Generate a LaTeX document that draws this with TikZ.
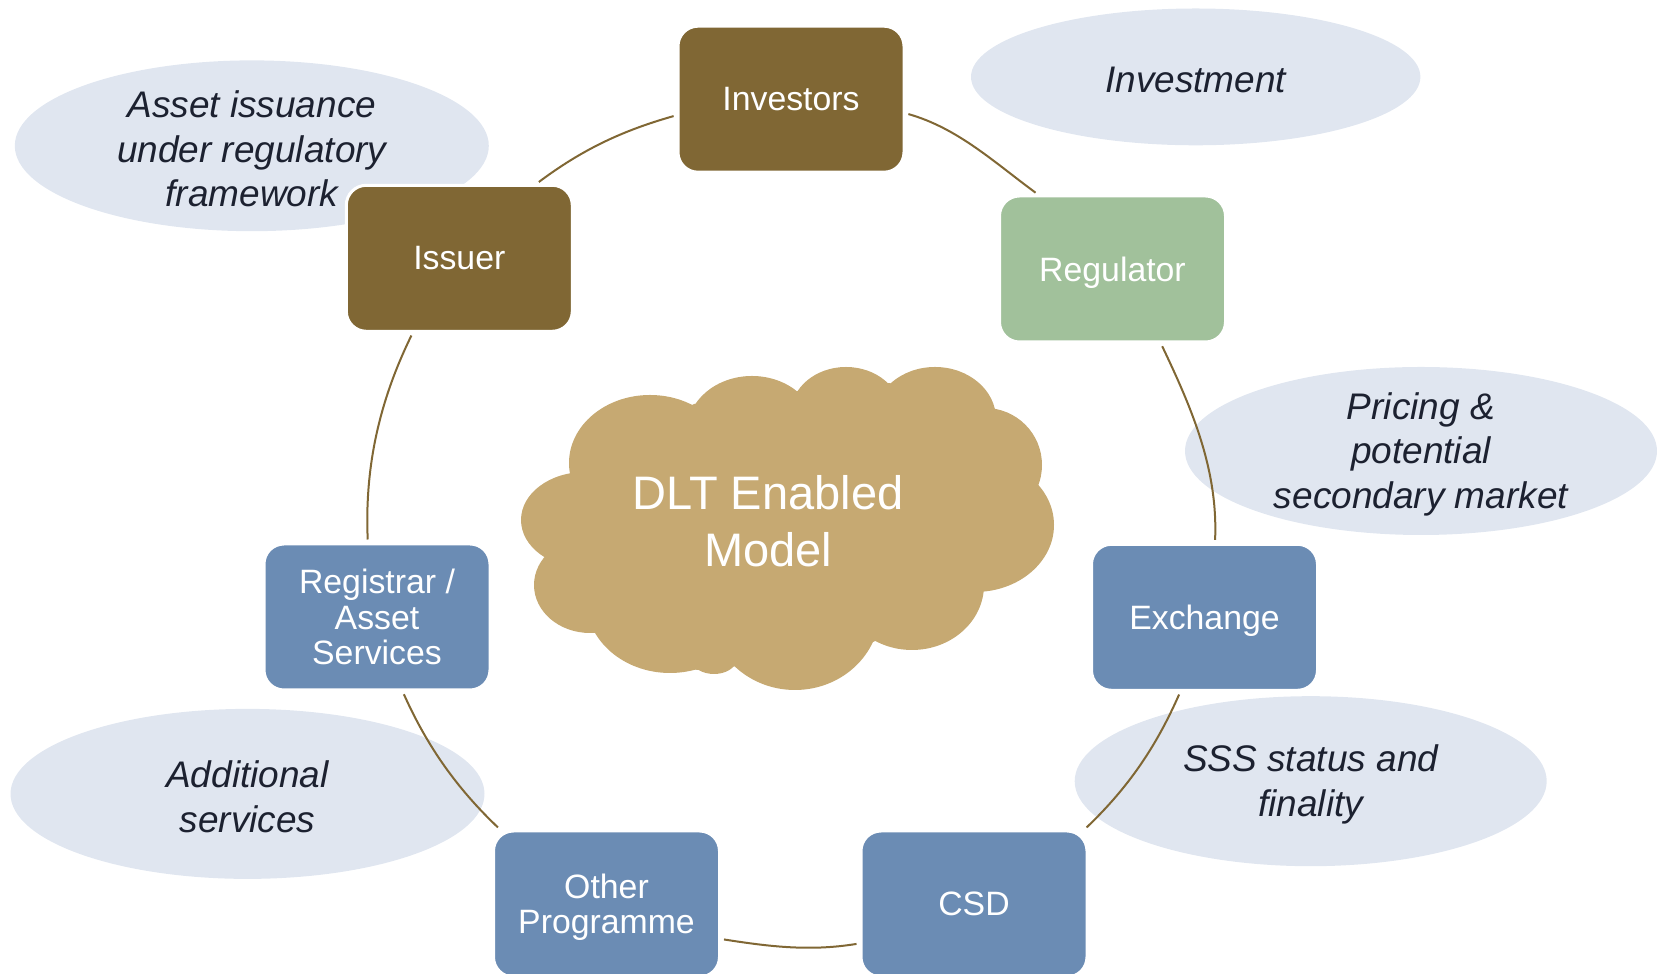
\documentclass[tikz,border=0pt]{standalone}
\usepackage{fontspec}
\setmainfont{Liberation Sans}
\usetikzlibrary{shapes.geometric}
\definecolor{bronze}{RGB}{128,103,52}
\definecolor{sage}{RGB}{161,193,155}
\definecolor{steel}{RGB}{107,140,180}
\definecolor{sand}{RGB}{198,169,114}
\definecolor{mist}{RGB}{224,230,240}
\definecolor{ink}{RGB}{28,33,48}
\begin{document}
\begin{tikzpicture}[x=0.5pt,y=0.5pt,
  stepbox/.style={rectangle, rounded corners=10pt, draw=white, line width=1.5pt,
    minimum width=113pt, minimum height=73pt, inner sep=0pt, align=center,
    text=white, font=\fontsize{16.9pt}{17.75pt}\selectfont},
  nodepth/.style={text depth=0pt},
  bubble/.style={ellipse, fill=mist, draw=none, inner sep=0pt},
  bubbletext/.style={align=center, text=ink, inner sep=0pt, yshift=-1.5pt,
    font=\fontsize{18.5pt}{22.25pt}\selectfont\itshape},
  link/.style={draw=bronze, line width=1pt, shorten <=1.5pt, shorten >=1.5pt},
]
\useasboundingbox (0,0) rectangle (1662,974);

% callout ellipses
\node[bubble, minimum width=237pt, minimum height=85.4pt] (asset) at (251.8,828.2) {};
\node[bubble, minimum width=224.7pt, minimum height=68.4pt] (invest) at (1195.7,897.1) {};
\node[bubble, minimum width=236pt, minimum height=84pt] (pricing) at (1421,523) {};
\node[bubble, minimum width=236pt, minimum height=85pt] (sss) at (1310.7,192.8) {};
\node[bubble, minimum width=237pt, minimum height=85pt] (addl) at (247.5,180.1) {};

\node[bubbletext] (assettxt) at (asset) {Asset issuance\\under regulatory\\framework};
\node[bubbletext] (investtxt) at (invest) {Investment};
\node[bubbletext] (pricingtxt) at (pricing) {Pricing \&\\potential\\secondary market};
\node[bubbletext] (ssstxt) at (sss) {SSS status and\\finality};
\node[bubbletext] (addltxt) at (addl) {Additional\\services};

% central cloud
\begin{scope}[fill=sand]
  \fill (570,500) -- (694,570) -- (798,583) -- (889,591) -- (993,566) -- (1038,492)
        -- (982,382) -- (873,332) -- (731,307) -- (697,304) -- (593,342) -- (547,417) -- cycle;
  \fill (650,511) ellipse [x radius=81, y radius=68];
  \fill (752,543) ellipse [x radius=65, y radius=55];
  \fill (846,561) ellipse [x radius=55, y radius=46];
  \fill (935,555) ellipse [x radius=61, y radius=52];
  \fill (985,509) ellipse [x radius=57, y radius=57];
  \fill (975,449) ellipse [x radius=79, y radius=67];
  \fill (912,389) ellipse [x radius=72, y radius=65];
  \fill (795,364) ellipse [x radius=85, y radius=80];
  \fill (714,314) ellipse [x radius=22, y radius=14];
  \fill (670,374) ellipse [x radius=84, y radius=73];
  \fill (590,389) ellipse [x radius=56, y radius=48];
  \fill (585,454) ellipse [x radius=64, y radius=48];
\end{scope}
\node[align=center, text=white, inner sep=0pt,
      font=\fontsize{23.5pt}{28.8pt}\selectfont] (dlt) at (768,452.6) {DLT Enabled\\Model};

% participants around the cycle
\node[stepbox, nodepth, fill=bronze] (inv)  at (791,874.8)   {Investors};
\node[stepbox, nodepth, fill=sage]   (reg)  at (1112.5,705)  {Regulator};
\node[stepbox, nodepth, fill=steel]  (exc)  at (1204.5,356.7) {Exchange};
\node[stepbox, nodepth, fill=steel]  (csd)  at (974,70)      {CSD};
\node[stepbox, nodepth, fill=steel]  (oth)  at (606.5,70)    {Other\\Programme};
\node[stepbox, fill=steel]           (regi) at (377,357)     {Registrar /\\Asset\\Services};
\node[stepbox, nodepth, fill=bronze] (iss)  at (459.3,715.7) {Issuer};

% cycle arcs
\draw[link] (inv.-7.4)   to[out=-15.95, in=143.65, out distance=27.3pt, in distance=27.3pt] (reg.135.7);
\draw[link] (reg.-57.1)  to[out=-64.52, in=87.57,  out distance=36.5pt, in distance=36.5pt] (exc.82.8);
\draw[link] (exc.-108.5) to[out=-113.78, in=43.75, out distance=30.3pt, in distance=30.3pt] (csd.34.2);
\draw[link] (csd.-161.9) to[out=-170.72, in=-8.9,  out distance=25pt,   in distance=25pt]   (oth.-17.7);
\draw[link] (oth.145.5)  to[out=136.4, in=-65.9,   out distance=30pt,   in distance=30pt]   (regi.-71.6);
\draw[link] (regi.97.2)  to[out=92.53, in=-116.1,  out distance=37.9pt, in distance=37.9pt] (iss.-122.5);
\draw[link] (iss.44.1)   to[out=36.8, in=-164.22,  out distance=28.4pt, in distance=28.4pt] (inv.-172.6);
\end{tikzpicture}
\end{document}
